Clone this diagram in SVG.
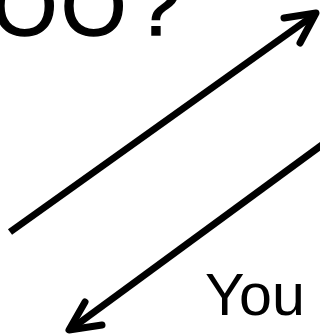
<svg xmlns="http://www.w3.org/2000/svg" width="320" height="335" viewBox="0 0 320 335">
<style>
.lbl{font-family:"Liberation Sans",Arial,sans-serif;fill:#000}
.ar{fill:none;stroke:#000;stroke-width:7;stroke-linecap:round;stroke-linejoin:round}
.ln{fill:none;stroke:#000;stroke-width:7;stroke-linecap:butt}
</style>
<rect width="320" height="335" fill="#fff"/>
<g id="top-label">
<text class="lbl" x="-8 61 134" y="35" font-size="84" stroke="#000" stroke-width="1.4">OO?</text>
</g>
<g id="you-label">
<text class="lbl" x="205" y="315" font-size="60" textLength="100" lengthAdjust="spacingAndGlyphs">You</text>
</g>
<g id="connectors">
<line class="ln" x1="10" y1="232" x2="314" y2="15"/>
<polyline class="ar" points="284,18 316,13 300,43"/>
<line class="ln" x1="330" y1="139" x2="71" y2="329"/>
<polyline class="ar" points="85,302 69,330 102,325"/>
</g>
</svg>
